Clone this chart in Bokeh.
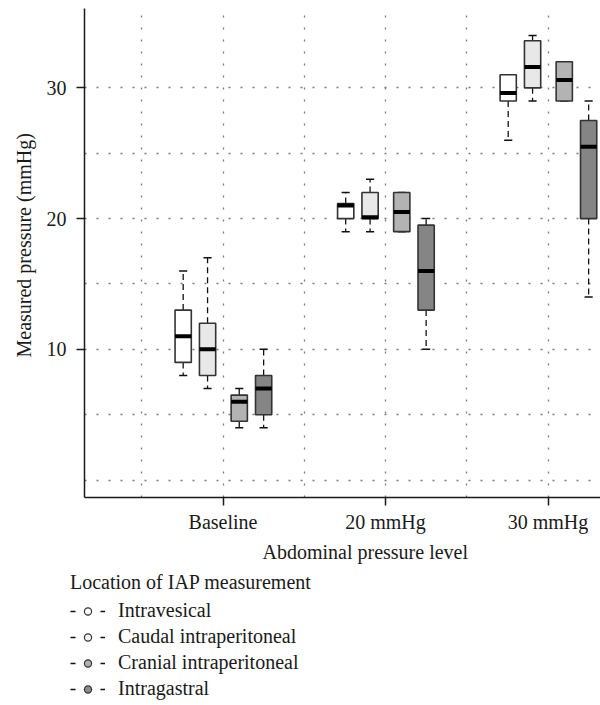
from bokeh.plotting import figure
from bokeh.models import Range1d, FixedTicker, Legend, LegendItem, ColumnDataSource, Title
from bokeh.transform import dodge
from bokeh.layouts import column
from bokeh.embed import file_html
from bokeh.resources import INLINE

# ---------------- data ----------------
levels = ["Baseline", "20 mmHg", "30 mmHg"]
level_pos = [1, 2, 3]
series = ["Intravesical", "Caudal intraperitoneal", "Cranial intraperitoneal", "Intragastral"]

intravesical_low = [8, 19, 26]
intravesical_q1 = [9, 20, 29]
intravesical_med = [11, 21, 29.6]
intravesical_q3 = [13, 21.15, 31]
intravesical_high = [16, 22, 31]

caudal_low = [7, 19, 29]
caudal_q1 = [8, 20, 30]
caudal_med = [10, 20.1, 31.6]
caudal_q3 = [12, 22, 33.6]
caudal_high = [17, 23, 34]

cranial_low = [4, 19, 29]
cranial_q1 = [4.5, 19, 29]
cranial_med = [6, 20.5, 30.6]
cranial_q3 = [6.5, 22, 32]
cranial_high = [7, 22, 32]

gastral_low = [4, 10, 14]
gastral_q1 = [5, 13, 20]
gastral_med = [7, 16, 25.5]
gastral_q3 = [8, 19.5, 27.5]
gastral_high = [10, 20, 29]

y_ticks = [10, 20, 30]
y_grid = [0, 5, 10, 15, 20, 25, 30]
x_grid = [0.5, 1, 1.5, 2, 2.5, 3]

x_title = "Abdominal pressure level"
y_title = "Measured pressure (mmHg)"
legend_title = "Location of IAP measurement"

# ---------------- styling ----------------
FONT = "Liberation Serif"
FS = "20px"
INK = "#1a1a1a"
box_fills = ["#ffffff", "#e8e8e8", "#b3b3b3", "#858585"]
legend_fills = ["#ffffff", "#f4f4f4", "#b0b0b0", "#8a8a8a"]
offsets = [-0.245, -0.095, 0.1, 0.25]
BOX_W = 0.1
CAP_W = 0.05

stats = [
    (intravesical_low, intravesical_q1, intravesical_med, intravesical_q3, intravesical_high),
    (caudal_low, caudal_q1, caudal_med, caudal_q3, caudal_high),
    (cranial_low, cranial_q1, cranial_med, cranial_q3, cranial_high),
    (gastral_low, gastral_q1, gastral_med, gastral_q3, gastral_high),
]

p = figure(
    width=600, height=565,
    min_border_left=84, min_border_right=0, min_border_top=8, min_border_bottom=66,
    x_range=Range1d(0.1477, 3.323), y_range=Range1d(-1.333, 36.07),
    output_backend="svg", toolbar_location=None,
)
p.frame_align = False
p.outline_line_color = None
p.background_fill_color = "white"
p.border_fill_color = "white"

# grid
p.xgrid.ticker = FixedTicker(ticks=x_grid)
p.ygrid.ticker = FixedTicker(ticks=y_grid)
for g in (p.xgrid, p.ygrid):
    g.grid_line_color = "#7a7a7a"
    g.grid_line_dash = "2 10"
    g.grid_line_width = 1.3

# axes
p.xaxis.ticker = FixedTicker(ticks=level_pos)
p.xaxis.major_label_overrides = {pos: lab for pos, lab in zip(level_pos, levels)}
p.yaxis.ticker = FixedTicker(ticks=y_ticks)
for ax in (p.xaxis[0], p.yaxis[0]):
    ax.axis_line_color = INK
    ax.axis_line_width = 1.5
    ax.major_tick_line_color = INK
    ax.major_tick_line_width = 1.5
    ax.major_tick_out = 8
    ax.major_tick_in = 0
    ax.minor_tick_line_color = None
    ax.major_label_text_font = FONT
    ax.major_label_text_font_size = FS
    ax.major_label_text_color = INK
p.yaxis.major_label_standoff = 10
p.xaxis.major_label_standoff = 5

# axis titles (placed as titles so they can sit off-centre like the reference)
xt = Title(text=x_title, align="left", offset=178, standoff=6,
           text_font=FONT, text_font_size=FS, text_font_style="normal", text_color=INK)
yt = Title(text=y_title, align="left", offset=140, standoff=17,
           text_font=FONT, text_font_size=FS, text_font_style="normal", text_color=INK)
p.add_layout(xt, "below")
p.add_layout(yt, "left")

# boxes
for k, (lo, q1, med, q3, hi) in enumerate(stats):
    src = ColumnDataSource(dict(level=level_pos, lo=lo, q1=q1, med=med, q3=q3, hi=hi))
    off = offsets[k]
    xc = dodge("level", off, range=p.x_range)
    p.segment(x0=xc, x1=xc, y0="q3", y1="hi", source=src,
              line_color="#111111", line_width=1.3, line_dash="6 4")
    p.segment(x0=xc, x1=xc, y0="q1", y1="lo", source=src,
              line_color="#111111", line_width=1.3, line_dash="6 4")
    p.segment(x0=dodge("level", off - CAP_W / 2, range=p.x_range),
              x1=dodge("level", off + CAP_W / 2, range=p.x_range),
              y0="hi", y1="hi", source=src, line_color="#111111", line_width=1.5)
    p.segment(x0=dodge("level", off - CAP_W / 2, range=p.x_range),
              x1=dodge("level", off + CAP_W / 2, range=p.x_range),
              y0="lo", y1="lo", source=src, line_color="#111111", line_width=1.5)
    p.vbar(x=xc, width=BOX_W, bottom="q1", top="q3", source=src,
           fill_color=box_fills[k], line_color="#333333", line_width=1.6)
    p.segment(x0=dodge("level", off - BOX_W / 2, range=p.x_range),
              x1=dodge("level", off + BOX_W / 2, range=p.x_range),
              y0="med", y1="med", source=src, line_color="black", line_width=4,
              line_cap="butt")

# ---------------- legend (own strip below the chart) ----------------
lg = figure(
    width=600, height=140,
    min_border_left=0, min_border_right=0, min_border_top=0, min_border_bottom=0,
    x_range=Range1d(0, 1), y_range=Range1d(0, 1),
    x_axis_location=None, y_axis_location=None,
    output_backend="svg", toolbar_location=None,
)
lg.frame_align = False
lg.outline_line_color = None
lg.grid.visible = False
lg.border_fill_color = "white"
lg.background_fill_color = "white"

items = []
for k, name in enumerate(series):
    # off-screen samples: only their legend glyphs are seen
    lr = lg.line(x=[-5, -4], y=[-5, -5], line_color="#111111", line_width=1.5,
                 line_dash="5 25")
    cr = lg.scatter(x=[-5], y=[-5], marker="circle", fill_color=legend_fills[k],
                    line_color="#333333", line_width=1.2)
    items.append(LegendItem(label=name, renderers=[lr, cr]))

legend = Legend(items=items, location=(70, 5), orientation="vertical")
legend.title = legend_title
legend.title_text_font = FONT
legend.title_text_font_size = FS
legend.title_text_font_style = "normal"
legend.title_text_color = INK
legend.title_standoff = 5
legend.label_text_font = FONT
legend.label_text_font_size = FS
legend.label_text_color = INK
legend.glyph_width = 35
legend.glyph_height = 18
legend.label_height = 18
legend.label_standoff = 13
legend.spacing = 3
legend.padding = 0
legend.margin = 0
legend.border_line_color = None
legend.background_fill_color = None
lg.add_layout(legend, "center")

open("out.html", "w").write(file_html(column(p, lg, spacing=0), INLINE))
